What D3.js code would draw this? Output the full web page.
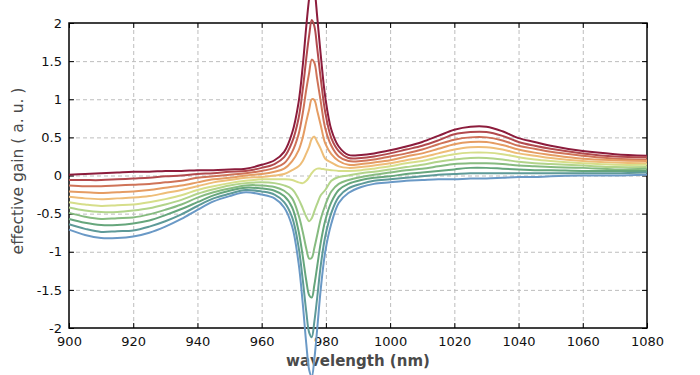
<!DOCTYPE html>
<html>
<head>
<meta charset="utf-8">
<script src="https://cdn.jsdelivr.net/npm/d3@7"></script>
<style>
body { margin: 0; background: #fff; }
svg { display: block; font-family: "DejaVu Sans", Verdana, sans-serif; }
</style>
</head>
<body>
<div id="chart"></div>
<script>
// wavelength samples (nm), denser round the resonance
const wavelength = [900, 905, 910, 915, 920, 925, 930, 935, 940, 945, 950, 955,
    960, 964, 967,
    969.5, 971.5, 972.8, 973.9, 974.8, 975.6, 976.4, 977.3, 978.4, 979.8, 981.7,
    984, 987, 991, 995,
    1000, 1005, 1010, 1015, 1020, 1025, 1030, 1035, 1040, 1045, 1050, 1060, 1070, 1080];

// effective gain, one array per curve, top (red) to bottom (blue)
const gain0 = [0.01, 0.02, 0.03, 0.04, 0.05, 0.05, 0.06, 0.06, 0.07, 0.07, 0.08, 0.09,
    0.14, 0.20, 0.31,
    0.56, 0.96, 1.44, 1.96, 2.33, 2.56, 2.45, 2.08, 1.58, 1.03, 0.60,
    0.38, 0.27, 0.27, 0.29,
    0.33, 0.38, 0.44, 0.52, 0.60, 0.64, 0.64, 0.58, 0.49, 0.44, 0.39, 0.32, 0.28, 0.26];
const gain1 = [-0.06, -0.06, -0.06, -0.05, -0.04, -0.03, -0.01, 0.00, 0.02, 0.03, 0.05, 0.06,
    0.10, 0.15, 0.24,
    0.44, 0.75, 1.13, 1.54, 1.84, 2.04, 1.96, 1.67, 1.27, 0.83, 0.49,
    0.32, 0.23, 0.23, 0.25,
    0.29, 0.34, 0.39, 0.46, 0.54, 0.57, 0.57, 0.52, 0.44, 0.39, 0.35, 0.29, 0.25, 0.24];
const gain2 = [-0.13, -0.14, -0.14, -0.13, -0.12, -0.11, -0.09, -0.07, -0.03, -0.01, 0.01, 0.03,
    0.06, 0.10, 0.16,
    0.31, 0.54, 0.82, 1.13, 1.35, 1.52, 1.48, 1.26, 0.97, 0.62, 0.39,
    0.25, 0.19, 0.19, 0.21,
    0.25, 0.29, 0.34, 0.41, 0.47, 0.50, 0.50, 0.46, 0.39, 0.35, 0.31, 0.26, 0.22, 0.21];
const gain3 = [-0.21, -0.22, -0.23, -0.22, -0.21, -0.19, -0.16, -0.13, -0.09, -0.05, -0.03, 0.00,
    0.02, 0.05, 0.09,
    0.19, 0.33, 0.50, 0.71, 0.87, 1.00, 0.99, 0.85, 0.66, 0.42, 0.28,
    0.19, 0.14, 0.15, 0.17,
    0.20, 0.25, 0.29, 0.35, 0.41, 0.44, 0.44, 0.40, 0.34, 0.30, 0.27, 0.22, 0.20, 0.19];
const gain4 = [-0.28, -0.30, -0.31, -0.30, -0.29, -0.27, -0.23, -0.19, -0.14, -0.09, -0.06, -0.03,
    -0.02, 0.00, 0.02,
    0.07, 0.12, 0.19, 0.29, 0.38, 0.48, 0.51, 0.44, 0.35, 0.22, 0.17,
    0.12, 0.10, 0.11, 0.13,
    0.16, 0.20, 0.24, 0.29, 0.34, 0.37, 0.37, 0.34, 0.29, 0.26, 0.23, 0.19, 0.17, 0.16];
const gain5 = [-0.35, -0.38, -0.40, -0.39, -0.38, -0.35, -0.31, -0.26, -0.19, -0.14, -0.10, -0.07,
    -0.05, -0.05, -0.05,
    -0.06, -0.09, -0.10, -0.07, -0.02, 0.03, 0.07, 0.09, 0.09, 0.08, 0.07,
    0.06, 0.06, 0.07, 0.09,
    0.12, 0.16, 0.19, 0.24, 0.28, 0.30, 0.30, 0.28, 0.24, 0.21, 0.19, 0.16, 0.14, 0.14];
const gain6 = [-0.42, -0.46, -0.48, -0.48, -0.46, -0.43, -0.38, -0.32, -0.24, -0.18, -0.13, -0.10,
    -0.09, -0.10, -0.13,
    -0.18, -0.31, -0.43, -0.54, -0.60, -0.56, -0.47, -0.37, -0.26, -0.19, -0.07,
    -0.02, 0.00, 0.03, 0.05,
    0.08, 0.11, 0.14, 0.18, 0.21, 0.23, 0.23, 0.21, 0.18, 0.16, 0.15, 0.13, 0.11, 0.11];
const gain7 = [-0.49, -0.54, -0.57, -0.56, -0.55, -0.51, -0.45, -0.38, -0.29, -0.22, -0.17, -0.13,
    -0.13, -0.15, -0.20,
    -0.30, -0.52, -0.74, -0.96, -1.09, -1.08, -0.95, -0.78, -0.57, -0.39, -0.21,
    -0.11, -0.06, -0.02, 0.01,
    0.04, 0.07, 0.09, 0.12, 0.15, 0.16, 0.16, 0.15, 0.13, 0.12, 0.11, 0.10, 0.08, 0.09];
const gain8 = [-0.57, -0.62, -0.65, -0.65, -0.63, -0.59, -0.52, -0.44, -0.35, -0.26, -0.20, -0.16,
    -0.17, -0.20, -0.27,
    -0.42, -0.73, -1.06, -1.38, -1.57, -1.60, -1.44, -1.19, -0.88, -0.59, -0.35,
    -0.19, -0.11, -0.06, -0.03,
    -0.01, 0.02, 0.04, 0.06, 0.08, 0.10, 0.10, 0.09, 0.08, 0.07, 0.07, 0.06, 0.06, 0.06];
const gain9 = [-0.64, -0.70, -0.74, -0.73, -0.72, -0.67, -0.60, -0.51, -0.40, -0.30, -0.24, -0.19,
    -0.21, -0.25, -0.35,
    -0.55, -0.94, -1.37, -1.79, -2.06, -2.12, -1.92, -1.60, -1.18, -0.80, -0.49,
    -0.28, -0.17, -0.11, -0.07,
    -0.05, -0.03, -0.01, 0.01, 0.02, 0.03, 0.03, 0.03, 0.03, 0.03, 0.03, 0.03, 0.03, 0.04];
const gain10 = [-0.71, -0.78, -0.82, -0.82, -0.80, -0.75, -0.67, -0.57, -0.45, -0.34, -0.27, -0.22,
    -0.25, -0.30, -0.42,
    -0.67, -1.15, -1.68, -2.21, -2.55, -2.64, -2.41, -2.01, -1.49, -1.00, -0.63,
    -0.36, -0.23, -0.15, -0.11,
    -0.09, -0.07, -0.06, -0.05, -0.05, -0.04, -0.04, -0.03, -0.02, -0.02, -0.01, 0.00, 0.00, 0.01];

const curveColors = ["#8c1c3c", "#b24a4e", "#cf7358", "#e59c63", "#eebd78", "#d6de8a",
    "#b2d48a", "#86bb80", "#66a67c", "#5e9a98", "#6a99c6"];

const xTicks = [900, 920, 940, 960, 980, 1000, 1020, 1040, 1060, 1080];
const yTicks = [-2, -1.5, -1, -0.5, 0, 0.5, 1, 1.5, 2];

var allGains = [gain0, gain1, gain2, gain3, gain4, gain5, gain6, gain7, gain8, gain9, gain10];

var width = 700, height = 375,
    margin = {top: 23, right: 53, bottom: 47, left: 69};

var svg = d3.select("#chart").append("svg")
    .attr("width", width)
    .attr("height", height);

var x = d3.scaleLinear().domain([900, 1080]).range([margin.left, width - margin.right]);
var y = d3.scaleLinear().domain([-2, 2]).range([height - margin.bottom, margin.top]);

// dashed grid
var grid = svg.append("g")
    .attr("stroke", "#bdbdbd")
    .attr("stroke-width", 1)
    .attr("stroke-dasharray", "4,3");
grid.selectAll("line.gx")
    .data(xTicks.slice(1, -1))
    .join("line")
    .attr("class", "gx")
    .attr("x1", d => x(d) + 0.5).attr("x2", d => x(d) + 0.5)
    .attr("y1", y(-2)).attr("y2", y(2));
grid.selectAll("line.gy")
    .data(yTicks.slice(1, -1))
    .join("line")
    .attr("class", "gy")
    .attr("x1", x(900)).attr("x2", x(1080))
    .attr("y1", d => y(d) + 0.5).attr("y2", d => y(d) + 0.5);

// axes, ticks pointing inward, mirrored on top / right
svg.append("g")
    .attr("transform", `translate(0,${y(-2)})`)
    .call(d3.axisBottom(x).tickValues(xTicks).tickSize(-5).tickPadding(9).tickFormat(d3.format("d")));
svg.append("g")
    .attr("transform", `translate(${x(900)},0)`)
    .call(d3.axisLeft(y).tickValues(yTicks).tickSize(-5).tickPadding(7).tickFormat(d => String(d)));
svg.append("g")
    .attr("transform", `translate(0,${y(2)})`)
    .call(d3.axisTop(x).tickValues(xTicks).tickSize(-5).tickFormat(""));
svg.append("g")
    .attr("transform", `translate(${x(1080)},0)`)
    .call(d3.axisRight(y).tickValues(yTicks).tickSize(-5).tickFormat(""));

svg.selectAll(".domain").remove();
svg.selectAll(".tick line").attr("stroke", "#000");
svg.selectAll(".tick text")
    .attr("fill", "#111")
    .style("font-size", "13px")
    .style("font-family", "'DejaVu Sans', Verdana, sans-serif");

svg.append("rect")
    .attr("x", x(900)).attr("y", y(2))
    .attr("width", x(1080) - x(900))
    .attr("height", y(-2) - y(2))
    .attr("fill", "none")
    .attr("stroke", "#000")
    .attr("stroke-width", 1.5);

// axis titles
svg.append("text")
    .attr("x", (x(900) + x(1080)) / 2)
    .attr("y", 366)
    .attr("text-anchor", "middle")
    .attr("fill", "#4a4a4a")
    .style("font-size", "15px")
    .style("font-weight", "bold")
    .text("wavelength (nm)");

svg.append("text")
    .attr("transform", "rotate(-90)")
    .attr("x", -171)
    .attr("y", 23)
    .attr("text-anchor", "middle")
    .attr("fill", "#4a4a4a")
    .style("font-size", "15.5px")
    .text("effective gain ( a. u. )");

// curves (not clipped, they run past the frame like the original)
var line = d3.line()
    .x((d, i) => x(wavelength[i]))
    .y(d => y(d))
    .curve(d3.curveCatmullRom.alpha(0.5));

svg.append("g")
    .selectAll("path")
    .data(allGains)
    .join("path")
    .attr("fill", "none")
    .attr("stroke", (d, i) => curveColors[i])
    .attr("stroke-width", 2)
    .attr("d", line);
</script>
</body>
</html>
